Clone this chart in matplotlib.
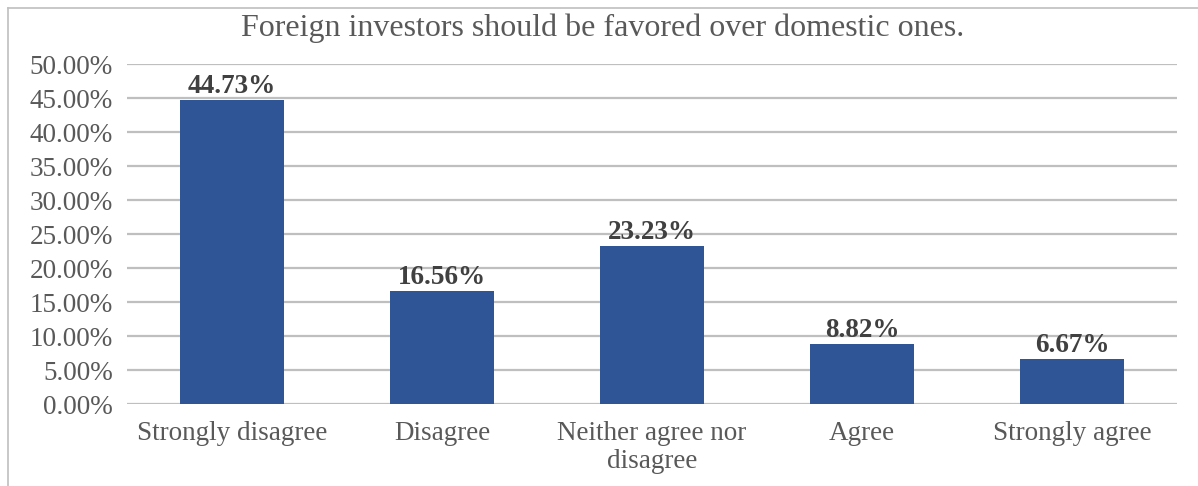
import matplotlib.pyplot as plt
from matplotlib.lines import Line2D
from matplotlib.ticker import FuncFormatter, MultipleLocator

categories = ['Strongly disagree', 'Disagree', 'Neither agree nor\ndisagree',
              'Agree', 'Strongly agree']
shares = [44.73, 16.56, 23.23, 8.82, 6.67]

plt.rcParams['font.family'] = ['Liberation Serif', 'DejaVu Serif']

fig = plt.figure(figsize=(11.98, 4.86), dpi=100)
ax = fig.add_axes([127 / 1198, 1 - 404 / 486, 1050 / 1198, 340 / 486])

x = range(len(categories))
ax.bar(x, shares, width=0.495, color='#2F5597', zorder=3)
for xi, v in zip(x, shares):
    ax.text(xi, v + 0.15, f'{v:.2f}%', ha='center', va='bottom',
            fontsize=19.5, fontweight='bold', color='#404040', zorder=4)

ax.set_xlim(-0.5, len(categories) - 0.5)
ax.set_ylim(0, 50)
ax.yaxis.set_major_locator(MultipleLocator(5))
ax.yaxis.set_major_formatter(FuncFormatter(lambda v, p: f'{v:.2f}%'))
ax.grid(axis='y', color='#BFBFBF', linewidth=1.6, zorder=0)
ax.set_xticks(list(x))
ax.set_xticklabels(categories, linespacing=1.15)
ax.tick_params(axis='both', length=0, labelsize=19.5, labelcolor='#595959')
ax.tick_params(axis='x', pad=12)
ax.tick_params(axis='y', pad=10)
for s in ax.spines.values():
    s.set_visible(False)

fig.text(603 / 1198, 1 - 28 / 486, 'Foreign investors should be favored over domestic ones.',
         ha='center', va='center', fontsize=23, color='#595959')

# outer frame of the chart
fig.add_artist(Line2D([8 / 1198, 8 / 1198], [0, 1 - 8 / 486], color='#BFBFBF', lw=1.2))
fig.add_artist(Line2D([8 / 1198, 1], [1 - 8 / 486, 1 - 8 / 486], color='#BFBFBF', lw=1.2))

fig.savefig('out.png', dpi=100)
